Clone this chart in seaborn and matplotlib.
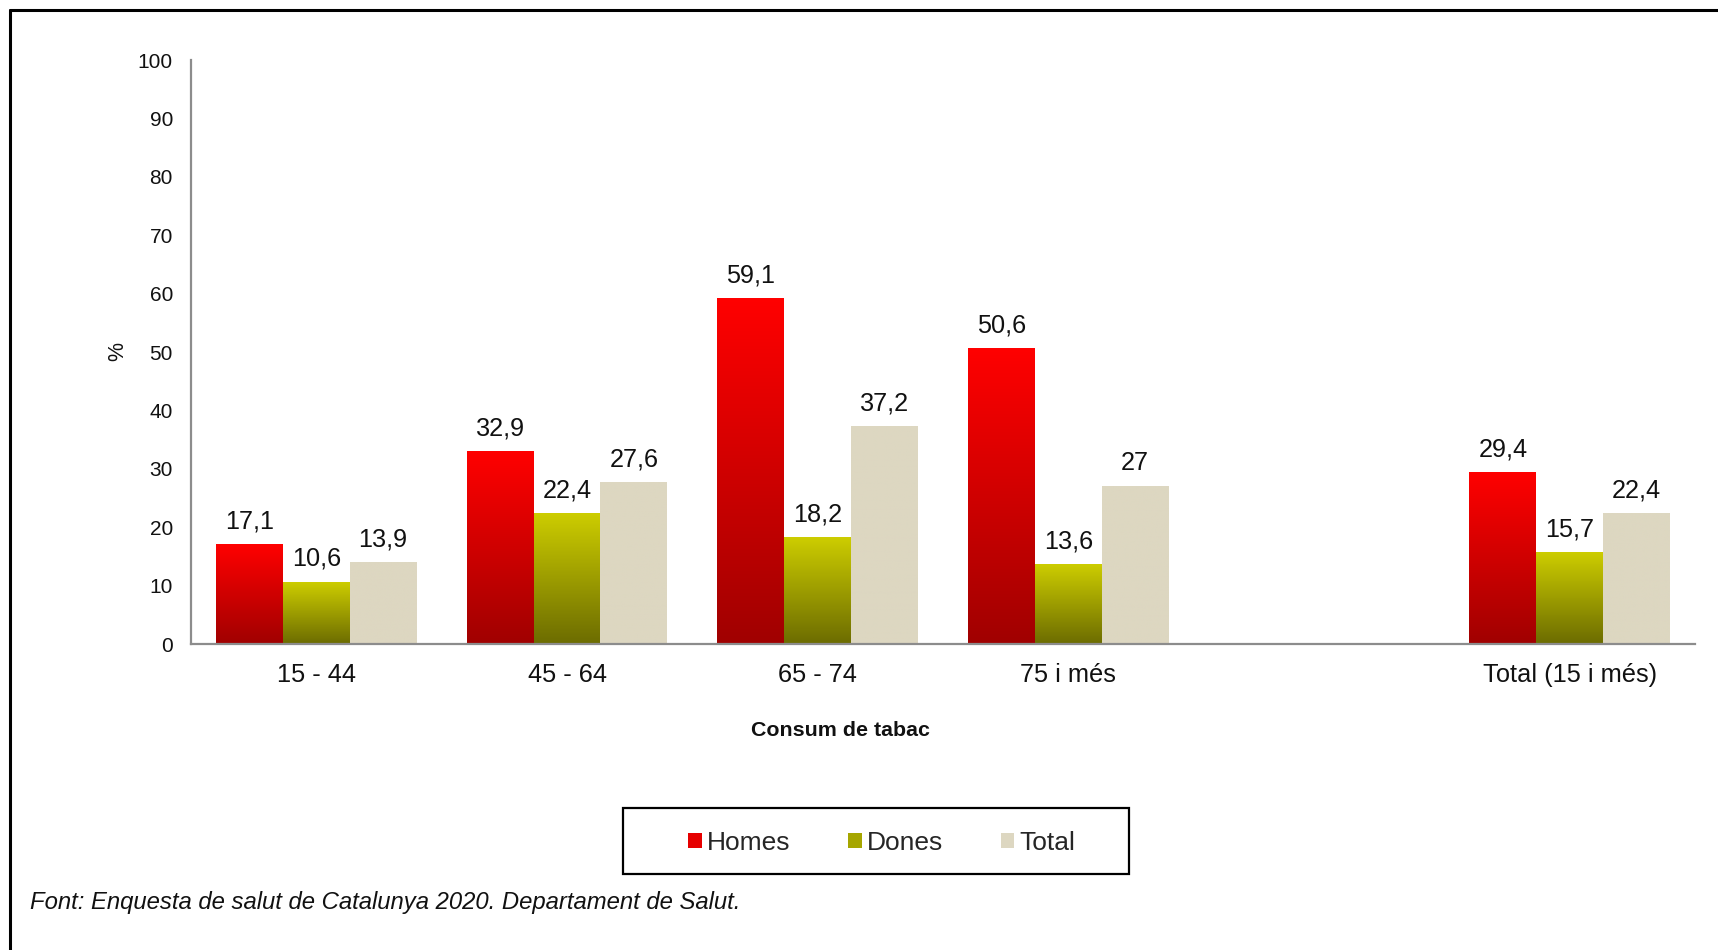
import numpy as np
import pandas as pd
import matplotlib
matplotlib.use("Agg")
import matplotlib.pyplot as plt
import seaborn as sns
from matplotlib.patches import Patch, Rectangle
from matplotlib.lines import Line2D
from matplotlib.colors import to_rgb

# ---- data ----
categories = ["15 - 44", "45 - 64", "65 - 74", "75 i més", "Total (15 i més)"]
homes = [17.1, 32.9, 59.1, 50.6, 29.4]
dones = [10.6, 22.4, 18.2, 13.6, 15.7]
total = [13.9, 27.6, 37.2, 27.0, 22.4]
series = ["Homes", "Dones", "Total"]
order = ["15 - 44", "45 - 64", "65 - 74", "75 i més", " ", "Total (15 i més)"]
yticks = [0, 10, 20, 30, 40, 50, 60, 70, 80, 90, 100]

df = pd.DataFrame({
    "cat": categories * 3,
    "serie": ["Homes"] * 5 + ["Dones"] * 5 + ["Total"] * 5,
    "val": homes + dones + total,
})

sns.set_theme(style="white")
plt.rcParams["font.family"] = ["Liberation Sans", "DejaVu Sans"]

grad = {
    "Homes": ("#A00000", "#FF0000"),
    "Dones": ("#6C6C00", "#CDCD00"),
    "Total": ("#DDD7C1", "#DDD7C1"),
}
solid = {"Homes": "#E60000", "Dones": "#A6A600", "Total": "#DDD7C1"}

fig = plt.figure(figsize=(17.18, 9.5), dpi=100)
ax = fig.add_axes([191 / 1718, 1 - 644 / 950, (1695 - 191) / 1718, (644 - 60) / 950])

sns.barplot(data=df, x="cat", y="val", hue="serie", order=order,
            hue_order=series, palette=solid, width=0.8, ax=ax,
            legend=False, saturation=1, errorbar=None)

# gradient fill
for serie, cont in zip(series, ax.containers):
    c0 = np.array(to_rgb(grad[serie][0]))
    c1 = np.array(to_rgb(grad[serie][1]))
    t = np.linspace(0, 1, 256)[:, None]
    img = (c0[None, :] * (1 - t) + c1[None, :] * t)[:, None, :]
    for bar in cont:
        x, y0 = bar.get_x(), bar.get_y()
        w, h = bar.get_width(), bar.get_height()
        if not np.isfinite(h) or h == 0:
            continue
        bar.set_edgecolor("none")
        ax.imshow(img, extent=[x, x + w, y0, y0 + h], origin="lower",
                  aspect="auto", zorder=bar.get_zorder() + 0.1, interpolation="bilinear")
    labels = [f"{v:g}".replace(".", ",") for v in df[df.serie == serie]["val"]]
    ax.bar_label(cont, labels=labels, padding=8, fontsize=18.2, color="#111111",
                 zorder=5)

ax.set_xlim(-0.5, 5.5)
ax.set_ylim(0, 100)
ax.set_yticks(yticks)
ax.set_yticklabels([str(v) for v in yticks])
ax.tick_params(axis="y", length=0, pad=13, labelsize=15, labelcolor="#111111")
ax.tick_params(axis="x", length=0, pad=14, labelsize=18.3, labelcolor="#111111")
ax.set_xlabel("")
ax.set_ylabel("")
for s in ["top", "right"]:
    ax.spines[s].set_visible(False)
for s in ["left", "bottom"]:
    ax.spines[s].set_color("#8C8C8C")
    ax.spines[s].set_linewidth(1.6)

# labels
fig.text(118 / 1718, 1 - 351 / 950, "%", rotation=90, ha="center", va="center",
         fontsize=15.5, color="#111111")
fig.text(840 / 1718, 1 - 730 / 950, "Consum de tabac", ha="center", va="center",
         fontsize=15.4, fontweight="bold", color="#111111")
fig.text(30 / 1718, 1 - 903 / 950,
         "Font: Enquesta de salut de Catalunya 2020. Departament de Salut.",
         ha="left", va="center", fontsize=17.2, fontstyle="italic", color="#111111")

# legend
handles = [Patch(facecolor=solid[s], edgecolor="none", label=s) for s in series]
fig.legend(handles=handles, loc="center", bbox_to_anchor=(882 / 1718, 1 - 842.5 / 950),
           ncol=3, frameon=False, fontsize=19, handlelength=0.5, handleheight=0.5,
           handletextpad=0.2, columnspacing=2.2)
fig.add_artist(Rectangle((623 / 1718, 1 - 874 / 950), 506 / 1718, 66 / 950,
                         transform=fig.transFigure, fill=False, edgecolor="black",
                         linewidth=1.6))

# outer frame (top and left visible)
fig.add_artist(Line2D([10 / 1718, 10 / 1718], [0, 1 - 10 / 950],
                      transform=fig.transFigure, color="black", linewidth=2.2))
fig.add_artist(Line2D([10 / 1718, 1], [1 - 10 / 950, 1 - 10 / 950],
                      transform=fig.transFigure, color="black", linewidth=2.2))

fig.savefig("out.png", dpi=100)
